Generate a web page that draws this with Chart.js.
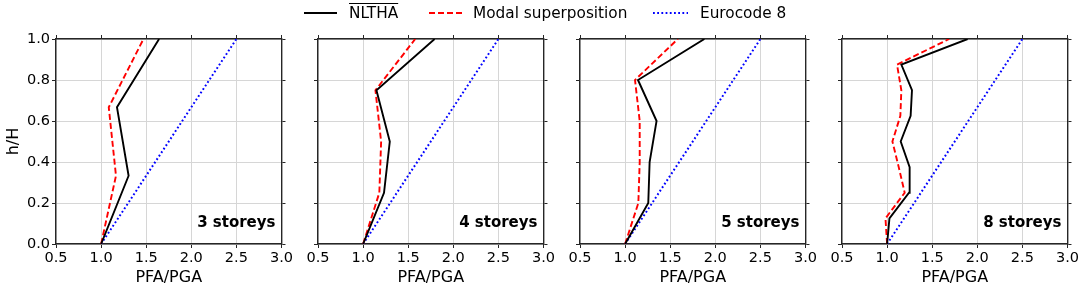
<!DOCTYPE html>
<html>
<head>
<meta charset="utf-8">
<script src="https://cdn.jsdelivr.net/npm/chart.js@4/dist/chart.umd.min.js"></script>
<style>
  body { margin: 0; background: #fff; font-family: "DejaVu Sans", sans-serif; }
  #wrap { position: relative; width: 1084px; height: 290px; overflow: hidden; }
  canvas { position: absolute; top: 0; }
  .lg { position: absolute; top: 3px; height: 20px; line-height: 20px; font-size: 15.3px; color: #000; white-space: nowrap; }
  .sw { position: absolute; top: 3px; }
  .nl { text-decoration: overline; }
</style>
</head>
<body>
<div id="wrap">
  <canvas id="c3"></canvas>
  <canvas id="c4"></canvas>
  <canvas id="c5"></canvas>
  <canvas id="c8"></canvas>
  <svg class="sw" style="left:304px" width="33" height="20"><line x1="0" y1="10" x2="33" y2="10" stroke="#000" stroke-width="1.8"/></svg>
  <span class="lg nl" style="left:349px">NLTHA</span>
  <svg class="sw" style="left:429px" width="34" height="20"><line x1="0" y1="10" x2="34" y2="10" stroke="#f00" stroke-width="1.8" stroke-dasharray="6 3"/></svg>
  <span class="lg" style="left:473px">Modal superposition</span>
  <svg class="sw" style="left:653px" width="35" height="20"><line x1="0" y1="10" x2="35" y2="10" stroke="#00f" stroke-width="1.8" stroke-dasharray="1.8 2.4"/></svg>
  <span class="lg" style="left:700px">Eurocode 8</span>
</div>
<script>
// normalised height h/H of each floor
const heights3 = [0, 0.333, 0.667, 1.0];
const heights4 = [0, 0.25, 0.5, 0.75, 1.0];
const heights5 = [0, 0.2, 0.4, 0.6, 0.8, 1.0];
const heights8 = [0, 0.125, 0.25, 0.375, 0.5, 0.625, 0.75, 0.875, 1.0];

// PFA/PGA
const nltha3 = [1.0, 1.305, 1.176, 1.643];
const modal3 = [1.0, 1.165, 1.085, 1.47];
const ec8_3 = [1.0, 1.5, 2.0, 2.5];

const nltha4 = [1.0, 1.232, 1.296, 1.148, 1.793];
const modal4 = [1.0, 1.18, 1.2, 1.137, 1.578];
const ec8_4 = [1.0, 1.375, 1.75, 2.125, 2.5];

const nltha5 = [1.0, 1.257, 1.272, 1.349, 1.143, 1.879];
const modal5 = [1.0, 1.147, 1.162, 1.162, 1.11, 1.585];
const ec8_5 = [1.0, 1.3, 1.6, 1.9, 2.2, 2.5];

const nltha8 = [1.0, 1.026, 1.243, 1.25, 1.151, 1.261, 1.276, 1.158, 1.893];
const modal8 = [1.0, 0.982, 1.195, 1.129, 1.059, 1.147, 1.158, 1.11, 1.688];
const ec8_8 = [1.0, 1.1875, 1.375, 1.5625, 1.75, 1.9375, 2.125, 2.3125, 2.5];

const xTicks = [0.5, 1.0, 1.5, 2.0, 2.5, 3.0];
const yTicks = [0.0, 0.2, 0.4, 0.6, 0.8, 1.0];

const panels = [
  { id: "c3", label: "3 storeys", h: heights3, nl: nltha3, md: modal3, ec: ec8_3, plotLeft: 56 },
  { id: "c4", label: "4 storeys", h: heights4, nl: nltha4, md: modal4, ec: ec8_4, plotLeft: 318 },
  { id: "c5", label: "5 storeys", h: heights5, nl: nltha5, md: modal5, ec: ec8_5, plotLeft: 580 },
  { id: "c8", label: "8 storeys", h: heights8, nl: nltha8, md: modal8, ec: ec8_8, plotLeft: 842 },
];

const plotW = 227, leftW = 56, rightW = 12;
const font = { family: "DejaVu Sans", size: 14.5 };
const spine = "#262626";

const pts = (xs, ys) => xs.map((v, i) => ({ x: v, y: ys[i] }));

const storeyLabel = {
  id: "storeyLabel",
  afterDatasetsDraw(chart, args, opts) {
    const { ctx, chartArea } = chart;
    ctx.save();
    ctx.font = "bold 15px 'DejaVu Sans'";
    ctx.fillStyle = "#000";
    ctx.textAlign = "right";
    ctx.textBaseline = "middle";
    ctx.fillText(opts.text, chartArea.right - 6, chartArea.bottom - 21);
    ctx.restore();
  },
};

const fixedTicks = (vals) => (scale) => {
  scale.ticks = vals.map((v) => ({ value: v }));
};

panels.forEach((p, idx) => {
  const cv = document.getElementById(p.id);
  const w = leftW + plotW + rightW;
  cv.style.left = (p.plotLeft - leftW) + "px";
  cv.width = w;
  cv.height = 290;
  cv.style.width = w + "px";
  cv.style.height = "290px";

  const first = idx === 0;
  new Chart(cv.getContext("2d"), {
    type: "scatter",
    data: {
      datasets: [
        { data: pts(p.nl, p.h), borderColor: "#000", borderWidth: 1.9, showLine: true, pointRadius: 0 },
        { data: pts(p.md, p.h), borderColor: "#ff0000", borderWidth: 1.9, borderDash: [6, 3], showLine: true, pointRadius: 0 },
        { data: pts(p.ec, p.h), borderColor: "#0000ff", borderWidth: 2, borderDash: [1.8, 2.4], showLine: true, pointRadius: 0 },
      ],
    },
    plugins: [storeyLabel],
    options: {
      responsive: false,
      animation: false,
      layout: { padding: 0 },
      plugins: {
        legend: { display: false },
        tooltip: { enabled: false },
        storeyLabel: { text: p.label },
      },
      scales: {
        x: {
          type: "linear",
          position: "bottom",
          min: 0.5,
          max: 3.0,
          afterBuildTicks: fixedTicks(xTicks),
          afterFit: (s) => { s.height = 46; },
          grid: { color: "#d6d6d6", tickColor: spine, tickLength: 4 },
          border: { color: spine, width: 1.4 },
          ticks: { color: "#000", font, padding: 2, maxRotation: 0, callback: (v) => v.toFixed(1) },
          title: { display: true, text: "PFA/PGA", color: "#000", font: { family: "DejaVu Sans", size: 16 }, padding: { top: 2, bottom: 3 } },
        },
        x2: {
          type: "linear",
          position: "top",
          min: 0.5,
          max: 3.0,
          afterBuildTicks: fixedTicks(xTicks),
          afterFit: (s) => { s.height = 39; },
          grid: { drawOnChartArea: false, tickColor: spine, tickLength: 4 },
          border: { color: spine, width: 1.4 },
          ticks: { display: false },
        },
        y: {
          type: "linear",
          position: "left",
          min: 0,
          max: 1,
          afterBuildTicks: fixedTicks(yTicks),
          afterFit: (s) => { s.width = leftW; },
          grid: { color: "#d6d6d6", tickColor: spine, tickLength: 4 },
          border: { color: spine, width: 1.4 },
          ticks: { display: first, color: "#000", font, padding: 2, callback: (v) => v.toFixed(1) },
          title: { display: first, text: "h/H", color: "#000", font: { family: "DejaVu Sans", size: 16 }, padding: { top: 4, bottom: 0 } },
        },
        y2: {
          type: "linear",
          position: "right",
          min: 0,
          max: 1,
          afterBuildTicks: fixedTicks(yTicks),
          afterFit: (s) => { s.width = rightW; },
          grid: { drawOnChartArea: false, tickColor: spine, tickLength: 4 },
          border: { color: spine, width: 1.4 },
          ticks: { display: false },
        },
      },
    },
  });
});
</script>
</body>
</html>
